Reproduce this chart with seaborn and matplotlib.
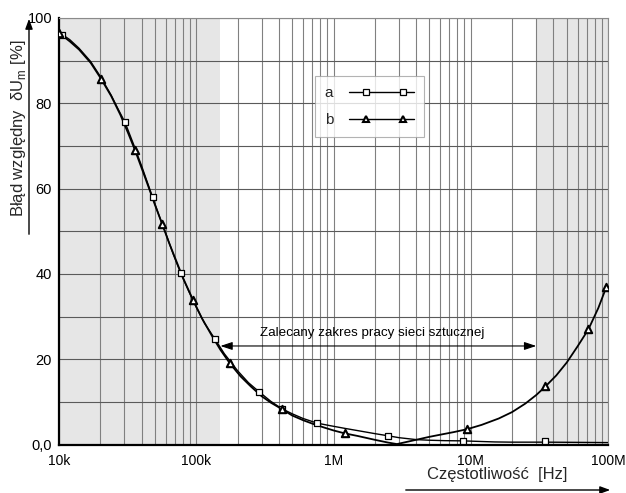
import numpy as np
import pandas as pd
import matplotlib
matplotlib.use("Agg")
import matplotlib.pyplot as plt
import seaborn as sns
from matplotlib.lines import Line2D
from matplotlib.legend_handler import HandlerBase
from matplotlib.ticker import FixedLocator, NullFormatter, LogLocator

# ---------------- data ----------------
a_freq = [10.6e3, 12e3, 14e3, 17e3, 20e3, 24e3, 27e3, 30.3e3, 35e3, 40e3, 44e3, 48e3,
          54e3, 60e3, 68e3, 77e3, 88e3, 100e3, 115e3, 137e3, 160e3, 200e3, 240e3,
          286e3, 350e3, 420e3, 500e3, 600e3, 762e3, 950e3, 1.2e6, 1.6e6, 2e6,
          2.48e6, 3e6, 4e6, 5e6, 6.5e6, 8.8e6, 12e6, 15e6, 20e6, 35e6, 60e6, 100e6]
a_val = [96.1, 94.9, 92.9, 89.8, 86.3, 81.9, 78.6, 75.5, 70.3, 65.3, 61.5, 58.0,
         53.4, 49.5, 44.6, 40.2, 36.0, 32.2, 28.4, 24.7, 21.3, 17.3, 14.5,
         12.4, 10.1, 8.4, 7.2, 6.1, 5.0, 4.4, 3.8, 3.1, 2.55,
         2.06, 1.6, 1.15, 1.0, 0.9, 0.85, 0.7, 0.6, 0.55, 0.55, 0.5, 0.45]
a_mark_freq = [10.6e3, 30.3e3, 48e3, 77e3, 137e3, 286e3, 420e3, 762e3, 2.48e6, 8.8e6, 35e6]
a_mark_val = [96.1, 75.5, 58.0, 40.2, 24.7, 12.4, 8.4, 5.0, 2.06, 0.9, 0.8]

b_freq = [10e3, 12e3, 14e3, 17e3, 20.2e3, 24e3, 28e3, 32e3, 35.8e3, 40e3, 45e3, 50e3,
          56.6e3, 63e3, 70e3, 80e3, 95e3, 110e3, 130e3, 150e3, 176e3, 210e3, 250e3,
          300e3, 350e3, 420e3, 500e3, 600e3, 700e3, 850e3, 1.0e6, 1.21e6, 1.5e6,
          2e6, 2.5e6, 2.9e6, 3.3e6, 4e6, 5e6, 6e6, 7.5e6, 9.44e6, 12e6, 16e6, 20e6,
          25e6, 30e6, 35e6, 42e6, 50e6, 60e6, 72e6, 85e6, 97.5e6]
b_val = [96.5, 94.5, 92.6, 89.5, 85.8, 81.7, 77.3, 72.9, 69.0, 64.8, 60.3, 56.2,
         51.6, 47.5, 43.8, 39.1, 33.8, 29.6, 25.5, 22.2, 19.0, 16.0, 13.6,
         11.3, 9.8, 8.3, 6.8, 5.7, 4.9, 4.0, 3.3, 2.6, 2.0,
         1.1, 0.45, 0.1, 0.5, 1.1, 1.8, 2.3, 2.9, 3.6, 4.6, 6.1, 7.6,
         9.6, 11.6, 13.6, 16.2, 19.2, 23.0, 27.0, 32.0, 37.0]
b_mark_freq = [10e3, 20.2e3, 35.8e3, 56.6e3, 95e3, 176e3, 420e3, 1.21e6, 9.44e6, 35e6, 72e6, 97.5e6]
b_mark_val = [96.5, 85.8, 69.0, 51.6, 33.8, 19.0, 8.3, 2.6, 3.6, 13.6, 27.0, 37.0]

x_ticks = [1e4, 1e5, 1e6, 1e7, 1e8]
x_tick_labels = ["10k", "100k", "1M", "10M", "100M"]
y_ticks = [0, 20, 40, 60, 80, 100]
y_tick_labels = ["0,0", "20", "40", "60", "80", "100"]

shade_ranges = [(1e4, 150e3), (30e6, 1e8)]
band_range = (150e3, 30e6)
band_level = 23.1
band_text = "Zalecany zakres pracy sieci sztucznej"

# ---------------- style ----------------
sns.set_theme(style="white")
plt.rcParams["font.family"] = ["Liberation Sans", "DejaVu Sans"]
plt.rcParams["mathtext.fontset"] = "custom"
plt.rcParams["mathtext.rm"] = "Liberation Sans"

fig = plt.figure(figsize=(6.26, 4.93), dpi=100)
ax = fig.add_axes([59 / 626, 48.5 / 493, 549 / 626, 426.5 / 493])

for lo, hi in shade_ranges:
    ax.axvspan(lo, hi, color="#e6e6e6", zorder=0.1, lw=0)

dfa = pd.DataFrame({"f": a_freq, "v": a_val})
dfb = pd.DataFrame({"f": b_freq, "v": b_val})
sns.lineplot(data=dfa, x="f", y="v", ax=ax, color="black", lw=1.0,
             estimator=None, sort=False, zorder=3)
sns.lineplot(data=dfb, x="f", y="v", ax=ax, color="black", lw=1.3,
             estimator=None, sort=False, zorder=3)
sns.scatterplot(x=a_mark_freq, y=a_mark_val, ax=ax, marker="s", s=20,
                facecolor="white", edgecolor="black", linewidth=0.9, zorder=4)
sns.scatterplot(x=b_mark_freq, y=b_mark_val, ax=ax, marker="^", s=28,
                facecolor="white", edgecolor="black", linewidth=1.5, zorder=4)

ax.set_xscale("log")
ax.set_xlim(1e4, 1e8)
ax.set_ylim(0, 100)
ax.set_xlabel("")
ax.set_ylabel("")

ax.xaxis.set_major_locator(FixedLocator(x_ticks))
ax.set_xticklabels(x_tick_labels)
ax.xaxis.set_minor_locator(LogLocator(base=10, subs=np.arange(2, 10)))
ax.xaxis.set_minor_formatter(NullFormatter())
ax.yaxis.set_major_locator(FixedLocator(y_ticks))
ax.set_yticklabels(y_tick_labels)
ax.yaxis.set_minor_locator(FixedLocator([10, 30, 50, 70, 90]))

ax.grid(True, which="both", axis="x", color="#808080", lw=0.8)
ax.grid(True, which="both", axis="y", color="#5a5a5a", lw=0.8)
ax.set_axisbelow(True)
ax.tick_params(axis="both", which="both", length=0)
ax.tick_params(axis="x", pad=7, labelsize=10, colors="black")
ax.tick_params(axis="y", pad=5, labelsize=10.5, colors="black")

for s in ["top", "right"]:
    ax.spines[s].set_color("#8a8a8a")
    ax.spines[s].set_linewidth(0.8)
for s in ["left", "bottom"]:
    ax.spines[s].set_color("black")
    ax.spines[s].set_linewidth(1.6)

# recommended range double arrow
ax.annotate("", xy=(band_range[0], band_level), xytext=(band_range[1], band_level),
            arrowprops=dict(arrowstyle="<|-|>,head_length=0.6,head_width=0.2",
                            color="black", lw=0.8, shrinkA=0, shrinkB=0), zorder=5)
ax.text(np.sqrt(band_range[0] * band_range[1]) * 0.9, band_level + 1.6, band_text,
        ha="center", va="bottom", fontsize=9.6, color="black", zorder=5)


# legend
class InsetHandler(HandlerBase):
    def create_artists(self, legend, orig_handle, xdescent, ydescent, width, height,
                       fontsize, trans):
        x = np.array([-xdescent, -xdescent + 0.27 * width, -xdescent + 0.83 * width,
                      -xdescent + width])
        y = np.full_like(x, (height - ydescent) / 2)
        l = Line2D(x, y)
        self.update_prop(l, orig_handle, legend)
        l.set_markevery([1, 2])
        l.set_transform(trans)
        return [l]


h_a = Line2D([], [], color="black", lw=1.0, marker="s", markersize=4.5,
             markerfacecolor="white", markeredgecolor="black", markeredgewidth=0.9)
h_b = Line2D([], [], color="black", lw=1.0, marker="^", markersize=5,
             markerfacecolor="white", markeredgecolor="black", markeredgewidth=1.5)
leg = ax.legend([h_a, h_b], ["a", "b"], handler_map={Line2D: InsetHandler()},
                loc="upper left", bbox_to_anchor=(0.466, 0.864), borderaxespad=0,
                markerfirst=False, handlelength=4.3, handletextpad=1.0,
                labelspacing=0.85, fontsize=11, frameon=True, fancybox=False,
                borderpad=0.65)
leg.get_frame().set_edgecolor("#a0a0a0")
leg.get_frame().set_linewidth(0.8)
leg.set_zorder(6)

# axis labels with arrows
fig.text(19 / 626, 1 - 128 / 493, "Błąd względny  δU$_\\mathregular{m}$ [%]",
         rotation=90, ha="center", va="center", fontsize=12)
fig.text(497 / 626, 1 - 475 / 493, "Częstotliwość  [Hz]", ha="center", va="center",
         fontsize=12)
fig.patches.append(matplotlib.patches.FancyArrowPatch(
    (29, 493 - 237), (29, 493 - 16), transform=None,
    arrowstyle="-|>,head_length=0.6,head_width=0.22", color="black", lw=1.0,
    mutation_scale=10))
fig.patches.append(matplotlib.patches.FancyArrowPatch(
    (403, 3), (613, 3), transform=None,
    arrowstyle="-|>,head_length=0.6,head_width=0.22", color="black", lw=1.0,
    mutation_scale=10))

fig.savefig("out.png", dpi=100)
